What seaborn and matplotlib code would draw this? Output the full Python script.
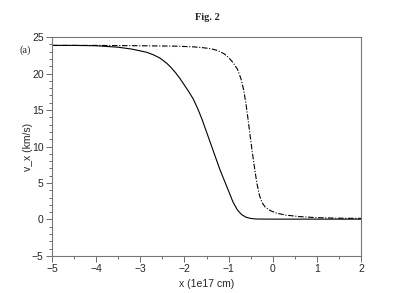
import matplotlib
matplotlib.use("Agg")
import matplotlib.pyplot as plt
from matplotlib.ticker import MultipleLocator
import pandas as pd
import seaborn as sns

# solid curve
x_solid = [-5.0, -4.5, -4.0, -3.5, -3.2, -3.0, -2.85, -2.7, -2.55, -2.4, -2.3, -2.2,
           -2.1, -2.0, -1.9, -1.8, -1.7, -1.6, -1.5, -1.4, -1.3, -1.2, -1.1, -1.0,
           -0.9, -0.8, -0.7, -0.6, -0.5, -0.4, -0.3, 0.0, 1.0, 2.0]
v_solid = [23.85, 23.85, 23.8, 23.6, 23.35, 23.1, 22.9, 22.55, 22.1, 21.4, 20.8, 20.1,
           19.3, 18.4, 17.5, 16.5, 15.2, 13.7, 12.0, 10.3, 8.6, 6.9, 5.4, 3.9,
           2.4, 1.3, 0.65, 0.3, 0.15, 0.08, 0.06, 0.05, 0.05, 0.05]

# dashed curve
x_dash = [-5.0, -4.0, -3.0, -2.2, -1.8, -1.6, -1.4, -1.25, -1.1, -1.0, -0.9, -0.8,
          -0.72, -0.66, -0.61, -0.56, -0.51, -0.46, -0.41, -0.36, -0.30, -0.24, -0.17,
          -0.05, 0.1, 0.3, 0.6, 1.0, 1.5, 2.0]
v_dash = [23.85, 23.85, 23.8, 23.75, 23.65, 23.55, 23.4, 23.15, 22.7, 22.2, 21.5, 20.6,
          19.3, 17.8, 16.0, 13.8, 11.4, 9.1, 7.0, 5.0, 3.3, 2.3, 1.7,
          1.2, 0.85, 0.6, 0.4, 0.25, 0.18, 0.15]

df = pd.concat([
    pd.DataFrame({"x": x_solid, "v": v_solid, "run": "solid"}),
    pd.DataFrame({"x": x_dash, "v": v_dash, "run": "dashed"}),
])

sns.set_style("ticks")
plt.rcParams['font.family'] = ['Liberation Sans', 'DejaVu Sans']
plt.rcParams['axes.unicode_minus'] = True

fig = plt.figure(figsize=(4.14, 2.93), dpi=100)
ax = fig.add_axes([0.1256, 0.1263, 0.7464, 0.7474])

sns.lineplot(data=df, x="x", y="v", style="run", ax=ax, color="black",
             dashes={"solid": "", "dashed": (5, 1.5, 1, 1.5)},
             linewidth=0.8, legend=False, estimator=None, sort=False)

ax.set_xlim(-5, 2)
ax.set_ylim(-5, 25)
ax.xaxis.set_major_locator(MultipleLocator(1))
ax.xaxis.set_minor_locator(MultipleLocator(0.5))
ax.yaxis.set_major_locator(MultipleLocator(5))
ax.yaxis.set_minor_locator(MultipleLocator(1))
ax.tick_params(which="major", length=4, width=0.6, color="#555555", labelsize=7.5, pad=2)
ax.tick_params(which="minor", length=2, width=0.6, color="#555555")
for s in ax.spines.values():
    s.set_color("#777777")
    s.set_linewidth(0.8)

ax.set_xlabel("x (1e17 cm)", fontsize=7.5)
ax.set_ylabel("v_x (km/s)", fontsize=7.5)
ax.xaxis.set_label_coords(0.5, -0.105)
ax.yaxis.set_label_coords(-0.062, 0.5)

fig.text(0.5, 0.94, "Fig. 2", ha="center", va="center", fontsize=7.5,
         fontweight="bold", family="Liberation Serif")
fig.text(0.06, 0.83, "(a)", ha="center", va="center", fontsize=7.5,
         family="Liberation Serif")

fig.savefig("out.png", dpi=100)
